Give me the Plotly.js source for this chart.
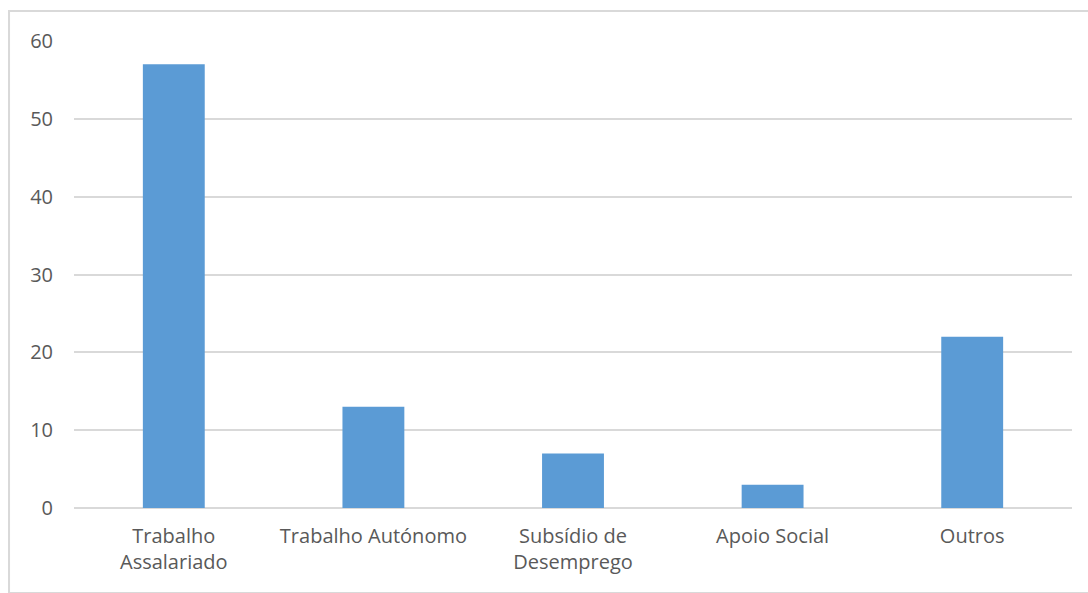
<!DOCTYPE html>
<html>
<head>
<meta charset="utf-8">
<script src="https://cdn.plot.ly/plotly-3.0.1.min.js"></script>
<style>html,body{margin:0;padding:0;background:#fff;}#chart{width:1088px;height:593px;}</style>
</head>
<body>
<div id="chart"></div>
<script>
const categories = ["Trabalho Assalariado", "Trabalho Autónomo", "Subsídio de Desemprego", "Apoio Social", "Outros"];
const tickLabels = ["Trabalho<br>Assalariado", "Trabalho Autónomo", "Subsídio de<br>Desemprego", "Apoio Social", "Outros"];
const values = [57, 13, 7, 3, 22];
const yTicks = [0, 10, 20, 30, 40, 50, 60];

const trace = {
  type: "bar",
  x: categories,
  y: values,
  marker: {color: "#5b9bd5"},
  hoverinfo: "x+y"
};

const layout = {
  width: 1088,
  height: 593,
  margin: {l: 74, r: 16, t: 41, b: 85},
  paper_bgcolor: "#ffffff",
  plot_bgcolor: "#ffffff",
  bargap: 0.69,
  showlegend: false,
  font: {family: "Open Sans, Liberation Sans, sans-serif", color: "#595959", size: 20},
  xaxis: {
    tickmode: "array",
    tickvals: categories,
    ticktext: tickLabels,
    showgrid: false,
    showline: false,
    ticks: "",
    tickfont: {size: 20, color: "#595959"},
    ticklabelstandoff: 14
  },
  yaxis: {
    range: [0, 60],
    tickmode: "array",
    tickvals: yTicks,
    showgrid: true,
    gridcolor: "#d9d9d9",
    gridwidth: 2,
    zeroline: true,
    zerolinecolor: "#d9d9d9",
    zerolinewidth: 2,
    showline: false,
    ticks: "",
    tickfont: {size: 20, color: "#595959"},
    ticklabelstandoff: 20
  },
  shapes: [{
    type: "rect",
    xref: "paper", yref: "paper",
    x0: -0.0651, x1: 1.05, y0: -0.182, y1: 1.064,
    line: {color: "#d9d9d9", width: 2},
    fillcolor: "rgba(0,0,0,0)",
    layer: "below"
  }]
};

Plotly.newPlot("chart", [trace], layout, {displayModeBar: false, staticPlot: true});
</script>
</body>
</html>
